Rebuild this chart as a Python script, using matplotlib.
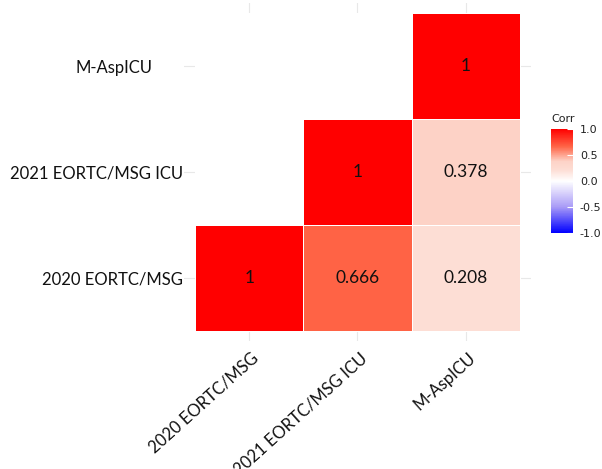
import numpy as np
import matplotlib
matplotlib.use("Agg")
import matplotlib.pyplot as plt
from matplotlib.colors import LinearSegmentedColormap, Normalize
from matplotlib.patches import Rectangle
from matplotlib.transforms import ScaledTranslation

# Criteria compared
labels = ["2020 EORTC/MSG", "2021 EORTC/MSG ICU", "M-AspICU"]

# Correlation matrix (rows/cols in the order of `labels`)
corr = np.array([
    [1.000, 0.666, 0.208],
    [0.666, 1.000, 0.378],
    [0.208, 0.378, 1.000],
])

legend_ticks = [-1.0, -0.5, 0.0, 0.5, 1.0]

FONT = "Lato"

# Diverging blue - white - red palette
cmap = LinearSegmentedColormap.from_list(
    "corr",
    [
        (0.000, "#0000FF"),
        (0.250, "#A99BF7"),
        (0.500, "#FFFFFF"),
        (0.604, "#FDDED5"),
        (0.689, "#FDD3C7"),
        (0.833, "#FF6446"),
        (1.000, "#FF0000"),
    ],
)
norm = Normalize(vmin=-1, vmax=1)

fig = plt.figure(figsize=(6.02, 4.69), dpi=100)
ax = fig.add_axes([0.306, 0.2723, 0.5757, 0.7219])

n = len(labels)
# keep the triangle where column index >= row index (row 0 at the bottom)
mask = np.tril(np.ones((n, n), dtype=bool), k=-1)
data = np.ma.masked_array(corr, mask=mask)

# plain white matrix area; grid lines only show in the panel margins
ax.add_patch(Rectangle((0.5, 0.5), n, n, facecolor="white",
                       edgecolor="none", zorder=1))

edges = np.arange(n + 1) + 0.5
ax.pcolormesh(edges, edges, data, cmap=cmap, norm=norm,
              edgecolors="white", linewidth=0.4, zorder=2)

for i in range(n):
    for j in range(n):
        if j >= i:
            v = corr[i, j]
            ax.text(j + 1, i + 1, f"{v:g}", ha="center", va="center",
                    fontsize=12.5, family=FONT, color="#111111", zorder=3)

ax.set_xlim(0.4, n + 0.6)
ax.set_ylim(0.4, n + 0.6)
ax.set_xticks(np.arange(1, n + 1))
ax.set_yticks(np.arange(1, n + 1))
ax.set_xticklabels(labels, rotation=42, ha="right", va="top",
                   rotation_mode="anchor", family=FONT, fontsize=12,
                   color="#111111")
ax.set_yticklabels(labels, family=FONT, fontsize=12, color="#111111")
ax.tick_params(axis="both", length=0)
ax.tick_params(axis="x", pad=6)
ax.tick_params(axis="y", pad=1)

for lab in ax.get_xticklabels():
    lab.set_transform(lab.get_transform() +
                      ScaledTranslation(2 / 100, 0, fig.dpi_scale_trans))
ylabs = ax.get_yticklabels()
ylabs[2].set_transform(ylabs[2].get_transform() +
                       ScaledTranslation(-30 / 100, 0, fig.dpi_scale_trans))

ax.grid(True, color="#E8E8E8", linewidth=0.8, zorder=0)
ax.set_axisbelow(True)
for s in ax.spines.values():
    s.set_visible(False)

# Colour legend
cax = fig.add_axes([551 / 602, 1 - 233 / 469, 22 / 602, 104 / 469])
sm = plt.cm.ScalarMappable(cmap=cmap, norm=norm)
cb = fig.colorbar(sm, cax=cax, ticks=legend_ticks)
cb.outline.set_visible(False)
cb.ax.set_yticklabels([f"{t:.1f}" for t in legend_ticks])
cb.ax.tick_params(length=4, width=0.8, color="white", direction="in",
                  labelsize=8, pad=5, labelcolor="#222222")
for lab in cb.ax.get_yticklabels():
    lab.set_family("DejaVu Sans")
cax.set_title("Corr", fontsize=8, loc="left", pad=5, color="#222222")

fig.savefig("out.png", dpi=100, facecolor="white")
